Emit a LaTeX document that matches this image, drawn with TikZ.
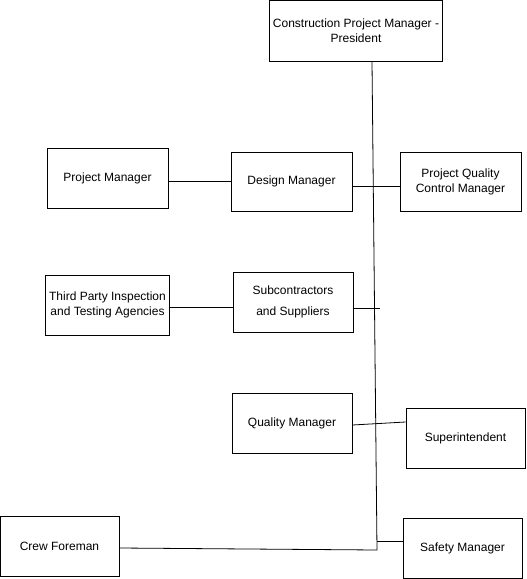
\documentclass[tikz,border=0pt]{standalone}
\usepackage{fontspec}
\setmainfont{Liberation Sans}
\tikzset{
  caja/.style={draw, thick, rectangle, align=center, font=\fontsize{12}{15}\selectfont},
  linea/.style={thick}
}
\begin{document}
\begin{tikzpicture}[x=1pt,y=-1pt,line width=0.9pt]
\useasboundingbox (0,0) rectangle (527,579);

% Gerente general
\node[caja, minimum width=172, minimum height=61] (cpm) at (356,30.5) {Construction Project Manager -\\President};

% Fila de diseño
\node[caja, minimum width=121, minimum height=60] (pm) at (107.5,178) {Project Manager};
\node[caja, minimum width=121, minimum height=59] (dm) at (291.5,181.5) {Design Manager};
\node[caja, minimum width=121, minimum height=59] (pqcm) at (460.5,181.5) {Project Quality\\Control Manager};

% Fila de subcontratos
\node[caja, minimum width=121, minimum height=60] (tpi) at (107.5,305) {Third Party Inspection\\and Testing Agencies};
\node[caja, minimum width=120, minimum height=60, font=\fontsize{12}{21}\selectfont] (sub) at (293,302) {Subcontractors\\and Suppliers};

% Fila de calidad
\node[caja, minimum width=120, minimum height=60] (qm) at (292,423) {Quality Manager};
\node[caja, minimum width=119, minimum height=60] (sup) at (465.5,438) {Superintendent};

% Fila de obra
\node[caja, minimum width=119, minimum height=60] (cf) at (59.5,546) {Crew Foreman};
\node[caja, minimum width=119, minimum height=60] (sm) at (462.5,548) {Safety Manager};

% Linea vertical principal
\coordinate (fin) at (377,550);
\draw[linea] ([xshift=16pt]cpm.south) -- (fin);

% Conexiones
\draw[linea] (dm.west) -- (dm.west -| pm.east);
\draw[linea] ([yshift=-4.5pt]dm.east) -- ([yshift=-4.5pt]pqcm.west);
\draw[linea] ([yshift=-2pt]tpi.east) -- ([yshift=-5pt]sub.west);
\coordinate (sub-fin) at (380,308);
\draw[linea] ([yshift=-6pt]sub.east) -- (sub-fin);
\draw[linea] ([yshift=-2pt]qm.east) -- ([yshift=16pt]sup.west);
\draw[linea] ([yshift=-2pt]cf.east) -- (fin);
\coordinate (sm-ini) at (377,541);
\draw[linea] (sm-ini) -- (sm-ini -| sm.west);

\end{tikzpicture}
\end{document}
